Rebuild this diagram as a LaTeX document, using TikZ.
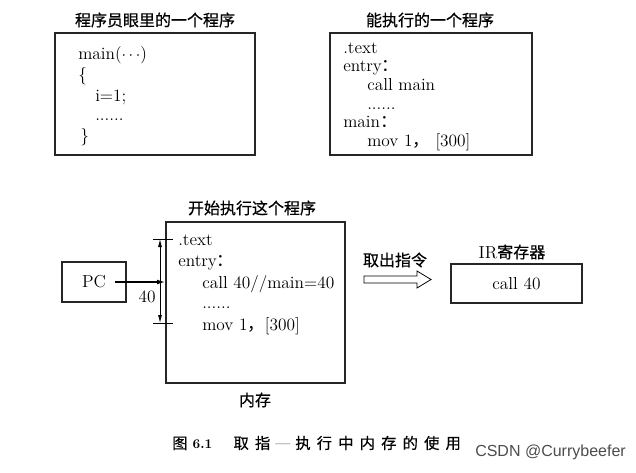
\documentclass[tikz,border=0pt]{standalone}
\usepackage{fontspec}
\usepackage{tikz}
\usetikzlibrary{positioning,arrows.meta,fit}
\newfontfamily\cjk{Noto Sans CJK SC}
\newfontfamily\cjkhead[FakeBold=0.5]{Noto Sans CJK SC}
\newfontfamily\cjkcap[LetterSpace=40,FakeBold=0.4]{Noto Sans CJK SC}
\newfontfamily\wmark{Liberation Sans}
\newcommand\sixdots{......}

\begin{document}
\begin{tikzpicture}[x=0.75pt, y=-0.75pt,
  font=\fontsize{13}{15}\selectfont,
  box/.style={draw=black!85, line width=1.4pt, inner sep=0pt},
  code/.style={anchor=base west, inner sep=0pt},
  head/.style={font=\fontsize{12}{14}\selectfont\cjkhead, inner sep=0pt},
  ptr/.style={-{Latex[length=6pt,width=3.5pt]}, line width=0.8pt},
  dim/.style={{Latex[length=6pt,width=3pt]}-{Latex[length=6pt,width=3pt]}, line width=0.6pt}]
\useasboundingbox (0,0) rectangle (636,472);
% programmer's view
\node[head] (progtitle) at (155,20) {程序员眼里的一个程序};
\node[box, fit={(55,33) (255,155)}] (prog) {};
\foreach \x/\y/\txt [count=\i] in {78/59/{main($\cdots$)}, 78/80/{\{}, 95/101/{i=1;},
    95/120/{\sixdots}, 80/141/{\}}}
  \node[code] (prog-\i) at (\x,\y) {\txt};
% executable view
\node[head] (exetitle) at (430,20) {能执行的一个程序};
\node[box, fit={(330,33) (532,155)}] (exe) {};
\foreach \x/\y/\txt [count=\i] in {343/53/{.text}, 343/71/{entry{\cjk ：}}, 367/90/{call main},
    367/109/{\sixdots}, 343/127/{main{\cjk ：}}, 367/146/{mov 1{\cjk ，}\ [300]}}
  \node[code] (exe-\i) at (\x,\y) {\txt};
% memory
\node[head] (memtitle) at (252,208) {开始执行这个程序};
\node[box, fit={(166,222) (345,383)}] (mem) {};
\node[head] (memname) at (255,400) {内存};
\foreach \x/\y/\txt [count=\i] in {178/245/{.text}, 178/266/{entry{\cjk ：}}, 202/288/{call 40//main=40},
    202/308/{\sixdots}, 202/330/{mov 1{\cjk ，}[300]}}
  \node[code] (mem-\i) at (\x,\y) {\txt};
% PC and offset
\node[box, minimum width=48pt, minimum height=30pt] (pc) at (94,282) {PC};
\draw[ptr] ([xshift=15.75pt]pc.center) -- (pc.center -| mem.west);
\coordinate (dtop) at (160,239);
\coordinate (dbot) at (160,323);
\foreach \c in {dtop,dbot}
  \draw[line width=0.6pt] ([xshift=-5.25pt]\c) -- ([xshift=9.75pt]\c);
\draw[dim] (dtop) -- (dbot);
\node (offset) at (147,297) {40};
% fetch
\node[head] (fetch) at (395,260) {取出指令};
\draw[line width=0.6pt] (364,276) -- (417,276) -- (417,271) -- (431,279.5)
  -- (417,288) -- (417,283) -- (364,283) -- cycle;
\node[head] (irtitle) at (512,252) {{\rmfamily\fontsize{13}{15}\selectfont IR}寄存器};
\node[box, minimum width=98.25pt, minimum height=29.25pt] (ir) at (516.5,283.5) {call 40};
% caption
\node[anchor=west, inner sep=0pt, font=\fontsize{11.5}{13}\selectfont] (caption) at (172,443)
  {{\cjkcap 图}\ {\fontsize{10}{12}\selectfont\bfseries 6.1}\hspace{16pt}{\cjkcap 取指}\ —\ {\cjkcap 执行中内存的使用}};
\node[anchor=west, inner sep=0pt, text=black!70, font=\wmark\fontsize{12}{14}\selectfont] (wm) at (475,452) {CSDN @Currybeefer};
\end{tikzpicture}
\end{document}
